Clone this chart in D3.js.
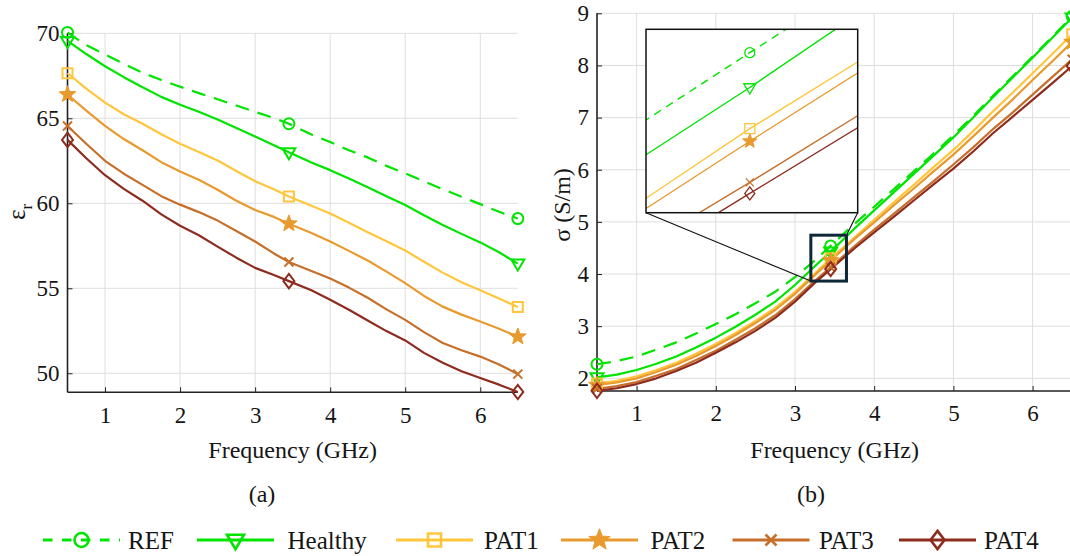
<!DOCTYPE html>
<html>
<head>
<meta charset="utf-8">
<script src="https://cdn.jsdelivr.net/npm/d3@7"></script>
<style>
  body { margin: 0; background: #fff; }
  svg { display: block; }
  text { font-family: "Liberation Serif", "Times New Roman", serif; fill: #151515; }
</style>
</head>
<body>
<svg id="fig" width="1070" height="556" font-family="Liberation Serif, Times New Roman, serif"></svg>
<script>
// Measurement frequencies (GHz)
const freq = [0.5, 0.75, 1, 1.25, 1.5, 1.75, 2, 2.25, 2.5, 2.75, 3, 3.25, 3.45,
              3.75, 4, 4.25, 4.5, 4.75, 5, 5.25, 5.5, 5.75, 6, 6.25, 6.5];

// Relative permittivity
const epsREF     = [70.05, 69.3, 68.75, 68.2, 67.68, 67.25, 66.86, 66.48, 66.12, 65.75, 65.38, 65.02, 64.68,
                    64.05, 63.6, 63.12, 62.7, 62.2, 61.76, 61.3, 60.83, 60.38, 59.95, 59.5, 59.1];
const epsHealthy = [69.55, 68.78, 68.06, 67.42, 66.83, 66.26, 65.8, 65.38, 64.93, 64.43, 63.93, 63.42, 63.0,
                    62.4, 61.95, 61.46, 60.95, 60.42, 59.9, 59.3, 58.72, 58.2, 57.7, 57.12, 56.45];
const epsPAT1    = [67.65, 66.75, 65.92, 65.24, 64.68, 64.06, 63.5, 63.02, 62.52, 61.9, 61.3, 60.82, 60.4,
                    59.85, 59.4, 58.86, 58.3, 57.77, 57.22, 56.56, 55.92, 55.35, 54.88, 54.4, 53.9];
const epsPAT2    = [66.4, 65.45, 64.55, 63.78, 63.12, 62.42, 61.87, 61.38, 60.8, 60.15, 59.6, 59.2, 58.8,
                    58.25, 57.75, 57.2, 56.63, 55.98, 55.3, 54.55, 53.92, 53.45, 53.04, 52.62, 52.15];
const epsPAT3    = [64.55, 63.5, 62.5, 61.74, 61.08, 60.42, 59.92, 59.48, 58.98, 58.37, 57.75, 57.05, 56.55,
                    56.02, 55.58, 55.04, 54.44, 53.76, 53.14, 52.42, 51.78, 51.35, 50.98, 50.52, 49.95];
const epsPAT4    = [63.73, 62.65, 61.65, 60.85, 60.15, 59.35, 58.68, 58.12, 57.45, 56.8, 56.2, 55.78, 55.42,
                    54.88, 54.32, 53.74, 53.1, 52.48, 51.93, 51.2, 50.62, 50.12, 49.72, 49.33, 48.9];

// Conductivity (S/m)
const sigREF     = [2.27, 2.33, 2.42, 2.55, 2.69, 2.86, 3.04, 3.23, 3.44, 3.66, 3.94, 4.26, 4.54,
                    4.96, 5.29, 5.63, 5.97, 6.31, 6.66, 7.03, 7.42, 7.79, 8.17, 8.55, 8.94];
const sigHealthy = [2.02, 2.07, 2.16, 2.28, 2.42, 2.59, 2.78, 2.99, 3.22, 3.47, 3.79, 4.15, 4.43,
                    4.87, 5.22, 5.57, 5.92, 6.27, 6.62, 7.0, 7.39, 7.77, 8.15, 8.53, 8.92];
const sigPAT1    = [1.9, 1.95, 2.04, 2.16, 2.3, 2.47, 2.66, 2.87, 3.1, 3.35, 3.66, 4.01, 4.3,
                    4.7, 5.04, 5.38, 5.71, 6.05, 6.38, 6.74, 7.12, 7.48, 7.85, 8.22, 8.6];
const sigPAT2    = [1.87, 1.92, 2.0, 2.12, 2.26, 2.43, 2.62, 2.83, 3.06, 3.31, 3.62, 3.98, 4.26,
                    4.67, 4.99, 5.32, 5.64, 5.97, 6.29, 6.64, 7.0, 7.35, 7.72, 8.08, 8.45];
const sigPAT3    = [1.8, 1.85, 1.93, 2.05, 2.18, 2.35, 2.53, 2.74, 2.96, 3.21, 3.52, 3.87, 4.13,
                    4.53, 4.85, 5.16, 5.47, 5.78, 6.1, 6.43, 6.78, 7.1, 7.44, 7.78, 8.12];
const sigPAT4    = [1.76, 1.81, 1.89, 2.0, 2.14, 2.3, 2.49, 2.69, 2.91, 3.16, 3.47, 3.83, 4.095,
                    4.49, 4.8, 5.1, 5.41, 5.72, 6.02, 6.35, 6.7, 7.02, 7.34, 7.66, 7.99];

// Samples that carry a marker
const markerIdx = [0, 12, 24];

const seriesNames   = ["REF", "Healthy", "PAT1", "PAT2", "PAT3", "PAT4"];
const seriesColors  = ["#00e400", "#00e400", "#ffc63c", "#e89a2e", "#c66f2a", "#8e2b1f"];
const seriesSymbols = ["circle", "triangle", "square", "star", "cross", "diamond"];
const seriesDashed  = [true, false, false, false, false, false];

const freqTicks = [1, 2, 3, 4, 5, 6];
const epsTicks  = [50, 55, 60, 65, 70];
const sigTicks  = [2, 3, 4, 5, 6, 7, 8, 9];

// Axis windows
const freqRange  = [0.5, 6.5];
const epsRange   = [48.88, 70];
const sigRange   = [1.757, 9];
const zoomFreq   = [3.2, 3.65];     // highlighted region on panel (b)
const zoomSigma  = [3.865, 4.745];
const insetFreq  = [3.298, 3.608];  // window shown in the magnified view
const insetSigma = [4.034, 4.614];

const epsSeries = [epsREF, epsHealthy, epsPAT1, epsPAT2, epsPAT3, epsPAT4];
const sigSeries = [sigREF, sigHealthy, sigPAT1, sigPAT2, sigPAT3, sigPAT4];

const svg = d3.select("#fig");
const AXIS = "#222";
const GRID = "#dedede";
const SERIF = '"Liberation Serif", "Times New Roman", serif';

// ---- marker shapes ----
function markerPath(type, r) {
  switch (type) {
    case "circle":
      return `M${r},0A${r},${r} 0 1 1 ${-r},0A${r},${r} 0 1 1 ${r},0Z`;
    case "triangle":
      return `M${-r},${-0.62 * r}L${r},${-0.62 * r}L0,${1.08 * r}Z`;
    case "square":
      return `M${-r},${-r}H${r}V${r}H${-r}Z`;
    case "star": {
      const R = r * 1.25, ri = R * 0.42;
      let d = "";
      for (let k = 0; k < 10; k++) {
        const a = -Math.PI / 2 + k * Math.PI / 5;
        const rr = k % 2 === 0 ? R : ri;
        d += (k === 0 ? "M" : "L") + (rr * Math.cos(a)).toFixed(2) + "," + (rr * Math.sin(a)).toFixed(2);
      }
      return d + "Z";
    }
    case "cross":
      return `M${-r},${-r}L${r},${r}M${-r},${r}L${r},${-r}`;
    case "diamond":
      return `M0,${-1.3 * r}L${r},0L0,${1.3 * r}L${-r},0Z`;
  }
}

function drawMarker(g, type, color, x, y, r, sw) {
  g.append("path")
    .attr("d", markerPath(type, r))
    .attr("transform", `translate(${x},${y})`)
    .attr("fill", type === "star" ? color : "none")
    .attr("stroke", color)
    .attr("stroke-width", type === "star" ? 1 : sw)
    .attr("stroke-linejoin", "miter");
}

const markerSize = { circle: 5.5, triangle: 6.5, square: 5, star: 7, cross: 4.5, diamond: 5.5 };

// ---- one panel ----
function panel(opts) {
  const { x, y, series, yTicks, left, right, top, bottom, label } = opts;
  const g = svg.append("g");

  // grid
  g.selectAll(".gx").data(freqTicks).join("line")
    .attr("x1", d => x(d)).attr("x2", d => x(d))
    .attr("y1", bottom).attr("y2", top)
    .attr("stroke", GRID).attr("stroke-width", 1);
  g.selectAll(".gy").data(yTicks).join("line")
    .attr("x1", left).attr("x2", right)
    .attr("y1", d => y(d)).attr("y2", d => y(d))
    .attr("stroke", GRID).attr("stroke-width", 1);

  // axes (inward ticks, no box)
  const xAxis = d3.axisBottom(x).tickValues(freqTicks).tickSize(-5).tickPadding(14).tickFormat(d3.format("d"));
  const yAxis = d3.axisLeft(y).tickValues(yTicks).tickSize(-5).tickPadding(8).tickFormat(d3.format("d"));
  const gx = g.append("g").attr("transform", `translate(0,${bottom})`).call(xAxis);
  const gy = g.append("g").attr("transform", `translate(${left},0)`).call(yAxis);
  [gx, gy].forEach(a => {
    a.attr("font-family", SERIF);
    a.select(".domain").attr("stroke", AXIS).attr("stroke-width", 1.6);
    a.selectAll(".tick line").attr("stroke", AXIS).attr("stroke-width", 1);
    a.selectAll(".tick text").attr("font-size", 23).attr("fill", "#222")
      .style("font-family", SERIF);
  });
  gx.select(".domain").attr("d", `M${left},0H${right}`);
  gy.select(".domain").attr("d", `M0,${bottom}V${top}`);

  // x label
  g.append("text").attr("x", (left + right) / 2).attr("y", 458)
    .attr("text-anchor", "middle").attr("font-size", 24).text("Frequency (GHz)");

  // series
  const line = d3.line().x((d, i) => x(freq[i])).y(d => y(d));
  series.forEach((vals, s) => {
    g.append("path").datum(vals)
      .attr("d", line)
      .attr("fill", "none")
      .attr("stroke", seriesColors[s])
      .attr("stroke-width", 2.2)
      .attr("stroke-dasharray", seriesDashed[s] ? "14,9" : null)
      .attr("stroke-linejoin", "round");
  });
  series.forEach((vals, s) => {
    markerIdx.forEach(i => drawMarker(g, seriesSymbols[s], seriesColors[s],
      x(freq[i]), y(vals[i]), markerSize[seriesSymbols[s]], 2));
  });

  // panel caption
  g.append("text").attr("x", opts.captionX).attr("y", 502)
    .attr("text-anchor", "middle").attr("font-size", 24).text(label);
  return g;
}

// ---- panel (a): permittivity ----
const xA = d3.scaleLinear().domain(freqRange).range([67.5, 517.8]);
const yA = d3.scaleLinear().domain(epsRange).range([392.3, 33.3]);
panel({ x: xA, y: yA, series: epsSeries, yTicks: epsTicks,
        left: 67.5, right: 517.8, top: 33.3, bottom: 392.3, label: "(a)", captionX: 262 });

svg.append("text")
  .attr("transform", "translate(25,212) rotate(-90)")
  .attr("text-anchor", "middle").attr("font-size", 25)
  .call(t => {
    t.append("tspan").text("ε");
    t.append("tspan").attr("font-size", 17).attr("dy", 7).text("r");
  });

// ---- panel (b): conductivity ----
const xB = d3.scaleLinear().domain(freqRange).range([597, 1072.2]);
const yB = d3.scaleLinear().domain(sigRange).range([391, 13.3]);
panel({ x: xB, y: yB, series: sigSeries, yTicks: sigTicks,
        left: 597, right: 1072.2, top: 13.3, bottom: 391, label: "(b)", captionX: 811 });

svg.append("text")
  .attr("transform", "translate(570,205) rotate(-90)")
  .attr("text-anchor", "middle").attr("font-size", 24)
  .text("σ (S/m)");

// ---- magnified view ----
const inset = { x0: 646, y0: 29.3, x1: 857.7, y1: 212.7 };
const bx0 = xB(zoomFreq[0]), bx1 = xB(zoomFreq[1]);
const by0 = yB(zoomSigma[1]), by1 = yB(zoomSigma[0]);

// connectors
svg.append("line").attr("x1", inset.x0).attr("y1", inset.y1).attr("x2", bx0).attr("y2", by1)
  .attr("stroke", "#111").attr("stroke-width", 1.1);
svg.append("line").attr("x1", inset.x1).attr("y1", inset.y1).attr("x2", bx1).attr("y2", by0)
  .attr("stroke", "#111").attr("stroke-width", 1.1);

// highlighted region
svg.append("rect").attr("x", bx0).attr("y", by0)
  .attr("width", bx1 - bx0).attr("height", by1 - by0)
  .attr("fill", "none").attr("stroke", "#0f2838").attr("stroke-width", 3);

const xI = d3.scaleLinear().domain(insetFreq).range([inset.x0, inset.x1]);
const yI = d3.scaleLinear().domain(insetSigma).range([inset.y1, inset.y0]);

svg.append("defs").append("clipPath").attr("id", "insetClip")
  .append("rect").attr("x", inset.x0).attr("y", inset.y0)
  .attr("width", inset.x1 - inset.x0).attr("height", inset.y1 - inset.y0);

svg.append("rect").attr("x", inset.x0).attr("y", inset.y0)
  .attr("width", inset.x1 - inset.x0).attr("height", inset.y1 - inset.y0)
  .attr("fill", "#fff");

const gi = svg.append("g").attr("clip-path", "url(#insetClip)");
const lineI = d3.line().x((d, i) => xI(freq[i])).y(d => yI(d));
sigSeries.forEach((vals, s) => {
  gi.append("path").datum(vals)
    .attr("d", lineI)
    .attr("fill", "none")
    .attr("stroke", seriesColors[s])
    .attr("stroke-width", 1.4)
    .attr("stroke-dasharray", seriesDashed[s] ? "8,6" : null);
});
const insetMarker = { circle: 5, triangle: 6, square: 5, star: 6, cross: 4, diamond: 5 };
sigSeries.forEach((vals, s) => {
  markerIdx.forEach(i => drawMarker(gi, seriesSymbols[s], seriesColors[s],
    xI(freq[i]), yI(vals[i]), insetMarker[seriesSymbols[s]], 1.3));
});
svg.append("rect").attr("x", inset.x0).attr("y", inset.y0)
  .attr("width", inset.x1 - inset.x0).attr("height", inset.y1 - inset.y0)
  .attr("fill", "none").attr("stroke", "#111").attr("stroke-width", 1.5);

// ---- legend ----
const legendLineX = [43, 197, 396, 561, 732.5, 899];
const legendTextX = [128, 287.5, 484, 650.5, 819, 984];
const legY = 540;
const lg = svg.append("g");
seriesNames.forEach((name, s) => {
  const x0 = legendLineX[s], x1 = x0 + 77;
  lg.append("line").attr("x1", x0).attr("x2", x1).attr("y1", legY).attr("y2", legY)
    .attr("stroke", seriesColors[s]).attr("stroke-width", 3.2)
    .attr("stroke-dasharray", seriesDashed[s] ? "9.5,9.5" : null);
  const r = { circle: 7, triangle: 8.5, square: 6.5, star: 9, cross: 5.5, diamond: 7 }[seriesSymbols[s]];
  drawMarker(lg, seriesSymbols[s], seriesColors[s], (x0 + x1) / 2, legY, r, 2.6);
  lg.append("text").attr("x", legendTextX[s]).attr("y", 549)
    .attr("font-size", 25).text(name);
});
</script>
</body>
</html>
